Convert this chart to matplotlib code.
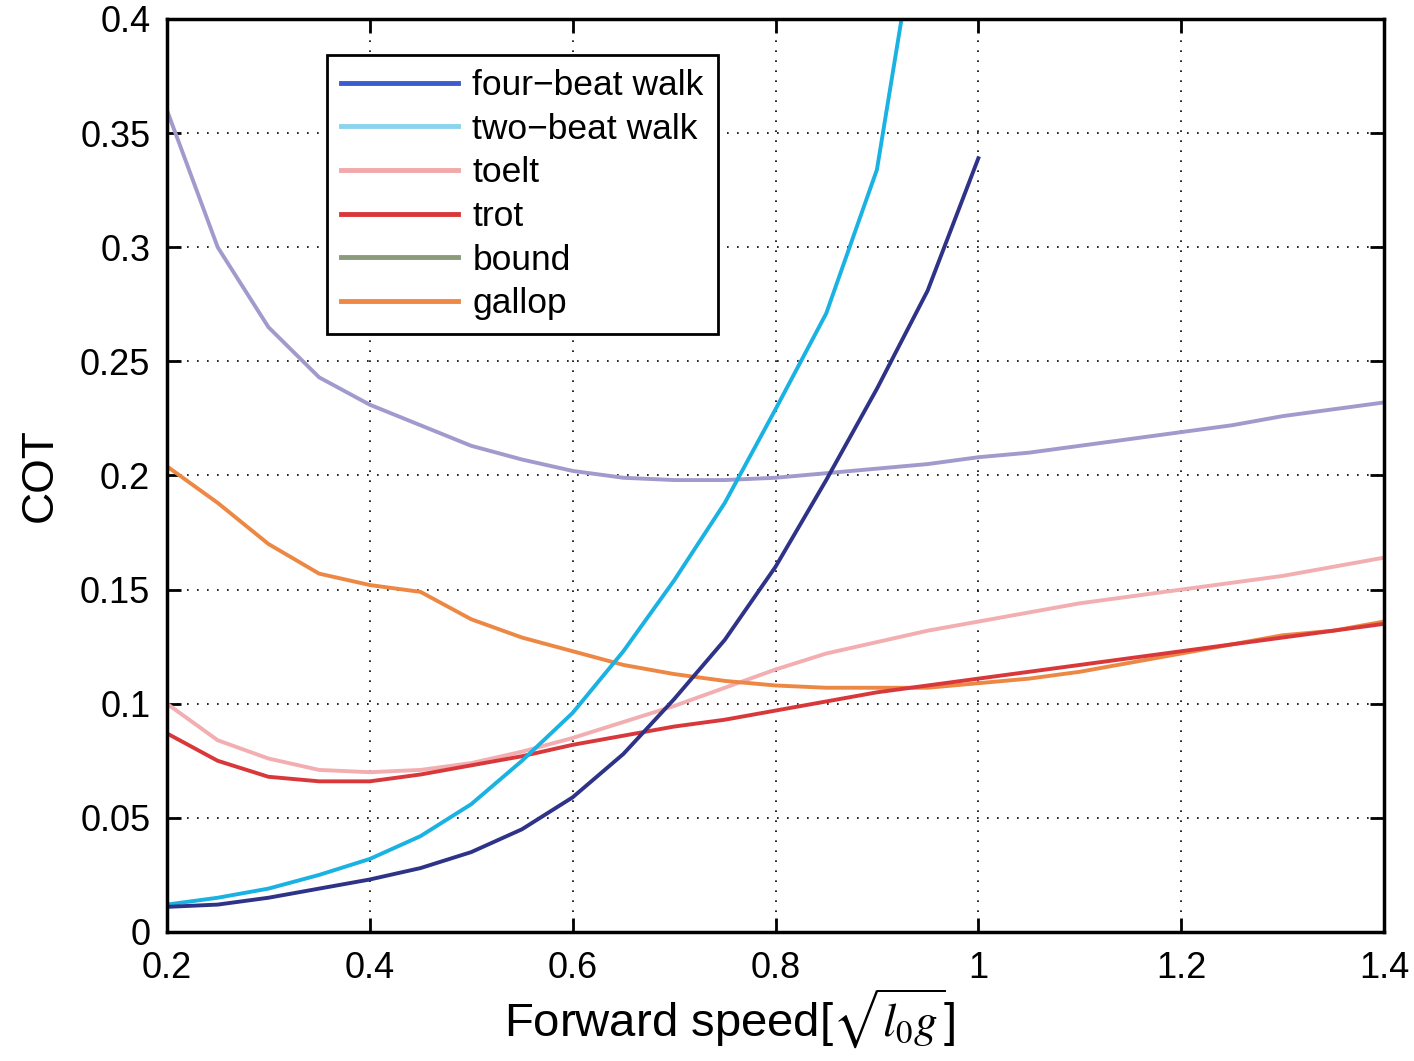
import matplotlib
matplotlib.use('Agg')
import matplotlib.pyplot as plt
from matplotlib.lines import Line2D

plt.rcParams['font.family'] = ['Liberation Sans', 'DejaVu Sans']
plt.rcParams['mathtext.fontset'] = 'stix'

speed = [0.2, 0.25, 0.3, 0.35, 0.4, 0.45, 0.5, 0.55, 0.6, 0.65, 0.7, 0.75, 0.8,
         0.85, 0.9, 0.95, 1.0, 1.05, 1.1, 1.15, 1.2, 1.25, 1.3, 1.35, 1.4]

four_beat = [0.011, 0.012, 0.015, 0.019, 0.023, 0.028, 0.035, 0.045, 0.059, 0.078,
             0.102, 0.128, 0.160, 0.198, 0.238, 0.281, 0.339]
two_beat = [0.012, 0.015, 0.019, 0.025, 0.032, 0.042, 0.056, 0.075, 0.096, 0.123,
            0.154, 0.188, 0.229, 0.271, 0.334, 0.47]
toelt = [0.100, 0.084, 0.076, 0.071, 0.070, 0.071, 0.074, 0.079, 0.085, 0.092,
         0.099, 0.107, 0.115, 0.122, 0.127, 0.132, 0.136, 0.140, 0.144, 0.147,
         0.150, 0.153, 0.156, 0.160, 0.164]
trot = [0.087, 0.075, 0.068, 0.066, 0.066, 0.069, 0.073, 0.077, 0.082, 0.086,
        0.090, 0.093, 0.097, 0.101, 0.105, 0.108, 0.111, 0.114, 0.117, 0.120,
        0.123, 0.126, 0.129, 0.132, 0.135]
gallop = [0.204, 0.188, 0.170, 0.157, 0.152, 0.149, 0.137, 0.129, 0.123, 0.117,
          0.113, 0.110, 0.108, 0.107, 0.107, 0.107, 0.109, 0.111, 0.114, 0.118,
          0.122, 0.126, 0.130, 0.132, 0.136]
bound = [0.360, 0.300, 0.265, 0.243, 0.231, 0.222, 0.213, 0.207, 0.202, 0.199,
         0.198, 0.198, 0.199, 0.201, 0.203, 0.205, 0.208, 0.210, 0.213, 0.216,
         0.219, 0.222, 0.226, 0.229, 0.232]

labels = ['four\u2212beat walk', 'two\u2212beat walk', 'toelt', 'trot', 'bound', 'gallop']
legend_colors = ['#3a5bd0', '#8ad4ee', '#f2a7a9', '#d9383a', '#8a9a7a', '#ee8844']

lw = 2.8

fig = plt.figure(figsize=(14.14, 10.61), dpi=100)
ax = fig.add_axes([0.1181, 0.1216, 0.8607, 0.8605])

ax.plot(speed[:len(bound)], bound, color='#a09bcc', lw=lw)
ax.plot(speed[:len(toelt)], toelt, color='#f2aeb0', lw=lw)
ax.plot(speed[:len(gallop)], gallop, color='#ec8844', lw=lw)
ax.plot(speed[:len(trot)], trot, color='#d9383a', lw=lw)
ax.plot(speed[:len(two_beat)], two_beat, color='#19b2e2', lw=lw)
ax.plot(speed[:len(four_beat)], four_beat, color='#2e3388', lw=lw)

ax.set_xlim(0.2, 1.4)
ax.set_ylim(0, 0.4)
ax.set_xticks([0.2, 0.4, 0.6, 0.8, 1.0, 1.2, 1.4])
ax.set_xticklabels(['0.2', '0.4', '0.6', '0.8', '1', '1.2', '1.4'])
ax.set_yticks([0, 0.05, 0.1, 0.15, 0.2, 0.25, 0.3, 0.35, 0.4])
ax.set_yticklabels(['0', '0.05', '0.1', '0.15', '0.2', '0.25', '0.3', '0.35', '0.4'])
ax.tick_params(direction='in', length=10, width=2, labelsize=26, top=True, right=True)
ax.tick_params(axis='x', pad=14)
ax.tick_params(axis='y', pad=12)
ax.grid(True, color='black', linestyle=(0, (1, 5)), linewidth=1.2)
for s in ax.spines.values():
    s.set_linewidth(2.5)

ax.set_xlabel(r'Forward speed[$\sqrt{l_0g}$]', fontsize=34, labelpad=0)
ax.xaxis.label.set_x(0.462)
ax.set_ylabel('COT', fontsize=32, labelpad=14)

handles = [Line2D([], [], color=c, lw=3.5) for c in legend_colors]
leg = ax.legend(handles, labels, loc='upper left', bbox_to_anchor=(0.1315, 0.9606),
                borderaxespad=0, fontsize=25.5, handlelength=3.3, labelspacing=0.3,
                borderpad=0.4, handletextpad=0.4, fancybox=False, framealpha=1)
leg.get_frame().set_edgecolor('black')
leg.get_frame().set_linewidth(2)

fig.savefig('out.png', dpi=100)
